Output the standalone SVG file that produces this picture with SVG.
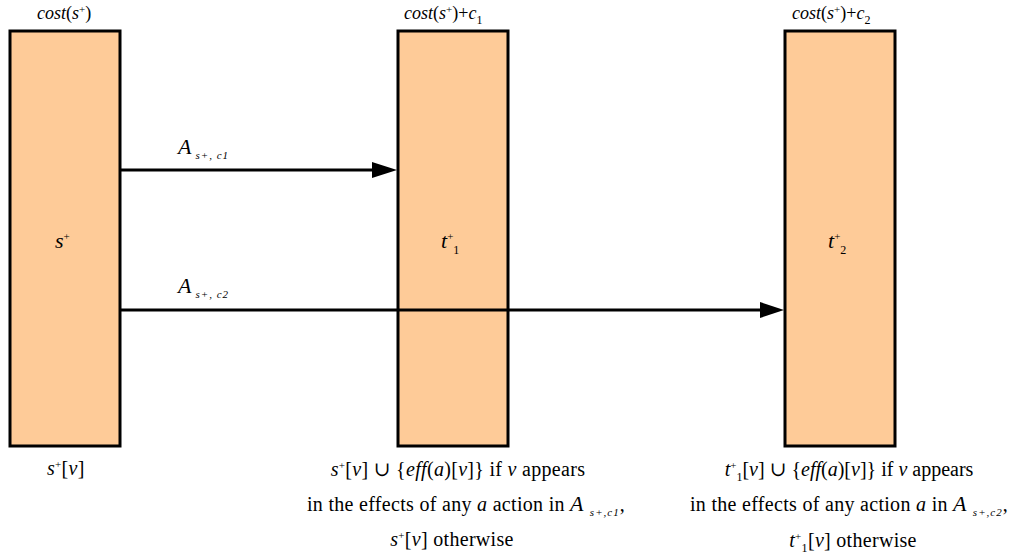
<svg xmlns="http://www.w3.org/2000/svg" width="1014" height="560" viewBox="0 0 1014 560">
<style>
text{font-family:"Liberation Serif","Times New Roman","DejaVu Serif",serif;font-size:18px;fill:#000}
.b{font-size:20px;letter-spacing:0.3px}
.m{font-style:italic}
.n{font-style:normal}
.c{text-anchor:middle}
.big{font-size:22px}
.box{fill:#fecb98;stroke:#000;stroke-width:3}
.conn{stroke:#000;stroke-width:3;fill:none}
.sup{font-size:11px;font-style:normal}
.sub{font-size:12px}
.tiny{font-size:11px;font-style:italic;letter-spacing:1px}
</style>
<rect width="1014" height="560" fill="#fff"/>
<g id="node-s">
<rect class="box" x="10" y="31" width="110" height="415"/>
<text x="37" y="19" class="m">cost<tspan class="n">(</tspan>s<tspan class="sup" dy="-6">+</tspan><tspan class="n" dy="6">)</tspan></text>
<text x="55" y="248" class="m big">s<tspan class="sup" dy="-8">+</tspan></text>
<text x="47" y="475" class="m b">s<tspan class="sup" dy="-7">+</tspan><tspan class="n" dy="7">[</tspan>v<tspan class="n">]</tspan></text>
</g>
<g id="node-t1">
<rect class="box" x="398" y="31" width="110" height="415"/>
<text x="404" y="19" class="m">cost<tspan class="n">(</tspan>s<tspan class="sup" dy="-6">+</tspan><tspan class="n" dy="6">)+</tspan>c<tspan class="sub n" dy="5">1</tspan></text>
<text x="441" y="248" class="m big">t<tspan class="sup" dy="-8">+</tspan><tspan class="sub n" dy="14">1</tspan></text>
<text x="458" y="476" class="c b"><tspan class="m">s</tspan><tspan class="sup" dy="-7">+</tspan><tspan dy="7">[</tspan><tspan class="m">v</tspan>] ∪ {<tspan class="m">eff</tspan>(<tspan class="m">a</tspan>)[<tspan class="m">v</tspan>]} if <tspan class="m">v</tspan> appears</text>
<text x="307" y="511" class="b">in the effects of any <tspan class="m">a</tspan> action in <tspan class="m big">A</tspan><tspan class="tiny" dy="5" dx="6">s+,c1</tspan><tspan dy="-5">,</tspan></text>
<text x="452" y="546" class="c b"><tspan class="m">s</tspan><tspan class="sup" dy="-7">+</tspan><tspan dy="7">[</tspan><tspan class="m">v</tspan>] otherwise</text>
</g>
<g id="node-t2">
<rect class="box" x="785" y="31" width="110" height="415"/>
<text x="792" y="19" class="m">cost<tspan class="n">(</tspan>s<tspan class="sup" dy="-6">+</tspan><tspan class="n" dy="6">)+</tspan>c<tspan class="sub n" dy="5">2</tspan></text>
<text x="828" y="248" class="m big">t<tspan class="sup" dy="-8">+</tspan><tspan class="sub n" dy="14">2</tspan></text>
<text x="849" y="476" class="c b" style="letter-spacing:0"><tspan class="m">t</tspan><tspan class="sup" dy="-7">+</tspan><tspan class="sub" dy="12">1</tspan><tspan dy="-5">[</tspan><tspan class="m">v</tspan>] ∪ {<tspan class="m">eff</tspan>(<tspan class="m">a</tspan>)[<tspan class="m">v</tspan>]} if <tspan class="m">v</tspan> appears</text>
<text x="690" y="511" class="b">in the effects of any action <tspan class="m">a</tspan> in <tspan class="m big">A</tspan><tspan class="tiny" dy="5" dx="6">s+,c2</tspan><tspan dy="-5">,</tspan></text>
<text x="853" y="547" class="c b"><tspan class="m">t</tspan><tspan class="sup" dy="-7">+</tspan><tspan class="sub" dy="12">1</tspan><tspan dy="-5">[</tspan><tspan class="m">v</tspan>] otherwise</text>
</g>
<g id="connectors">
<line class="conn" x1="120" y1="170" x2="372" y2="170"/>
<path d="M372,162 L397,170 L372,178 Z" fill="#000"/>
<line class="conn" x1="120" y1="310" x2="760" y2="310"/>
<path d="M760,302 L784,310 L760,318 Z" fill="#000"/>
<text x="178" y="154" class="m big">A<tspan class="tiny" dy="5" dx="4">s+, c1</tspan></text>
<text x="178" y="293" class="m big">A<tspan class="tiny" dy="5" dx="4">s+, c2</tspan></text>
</g>
</svg>
